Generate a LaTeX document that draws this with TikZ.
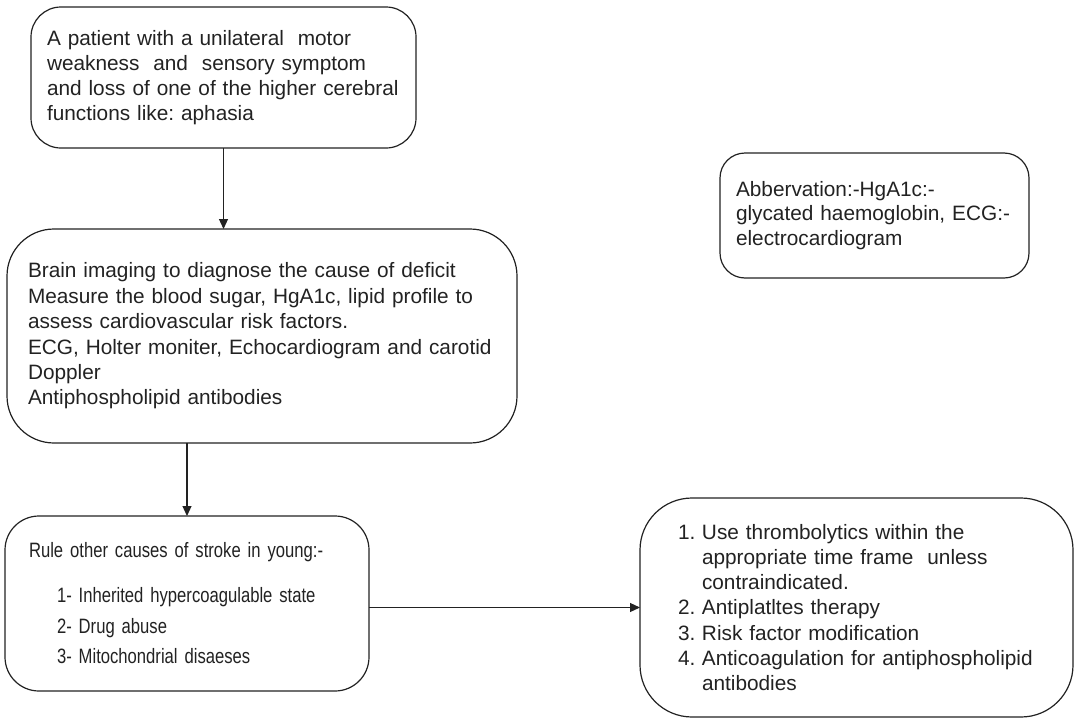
\documentclass[tikz,border=0pt]{standalone}
\usepackage{fontspec}
\setmainfont{Liberation Sans}
\newfontfamily\narrowfont[FakeStretch=0.8]{Liberation Sans}
\usetikzlibrary{arrows.meta}
\definecolor{lc}{HTML}{222222}
\tikzset{
  box/.style={draw=lc, text=lc, line width=1.2pt, align=left, inner ysep=0pt, outer sep=0pt},
  arr/.style={draw=lc, line width=1.2pt, -{Triangle[length=10pt,width=9pt]}}
}
\begin{document}
\hyphenpenalty=10000 \exhyphenpenalty=10000 \frenchspacing
\begin{tikzpicture}[x=1pt,y=-1pt]
\useasboundingbox (0,0) rectangle (1075,720);
\node[box, rounded corners=30pt, minimum width=385pt, minimum height=141pt, text width=353pt, inner xsep=16pt,
  font=\fontsize{20.8}{25.2}\selectfont] (b1) at (223.5,77.5)
  {A patient with a unilateral\ \ motor\\
   weakness\ \ and\ \ sensory symptom\\
   and loss of one of the higher cerebral\\
   functions like: aphasia};
\node[box, rounded corners=47pt, minimum width=510pt, minimum height=214pt, text width=468pt, inner xsep=21pt,
  font=\fontsize{20.8}{25.4}\selectfont] (b2) at (262,336)
  {Brain imaging to diagnose the cause of deficit\\
   Measure the blood sugar, HgA1c, lipid profile to\\
   assess cardiovascular risk factors.\\
   ECG, Holter moniter, Echocardiogram and carotid\\
   Doppler\\
   Antiphospholipid antibodies};
\node[box, rounded corners=34pt, minimum width=364pt, minimum height=175pt, text width=316pt, inner xsep=24pt,
  font=\narrowfont\fontsize{20.8}{30.5}\selectfont] (b3) at (187,603.5)
  {Rule other causes of stroke in young:-\\[14.5pt]
   \hspace*{28pt}1- Inherited hypercoagulable state\\
   \hspace*{28pt}2- Drug abuse\\
   \hspace*{28pt}3- Mitochondrial disaeses};
\node[box, rounded corners=52pt, minimum width=433pt, minimum height=219pt, text width=357pt, inner xsep=38pt,
  font=\fontsize{20.8}{25.3}\selectfont] (b4) at (856.5,607.5)
  {\makebox[24pt][l]{1.}Use thrombolytics within the\\
   \hspace*{24pt}appropriate time frame\ \ unless\\
   \hspace*{24pt}contraindicated.\\
   \makebox[24pt][l]{2.}Antiplatltes therapy\\
   \makebox[24pt][l]{3.}Risk factor modification\\
   \makebox[24pt][l]{4.}Anticoagulation for antiphospholipid\\
   \hspace*{24pt}antibodies};
\node[box, rounded corners=25pt, minimum width=309pt, minimum height=125pt, text width=277pt, inner xsep=16pt,
  font=\fontsize{20.8}{24.5}\selectfont] (b5) at (874.5,215.5)
  {Abbervation:-HgA1c:-\\
   glycated haemoglobin, ECG:-\\
   electrocardiogram\\[6pt]};
\draw[arr] (b1.south) -- (b1.south |- b2.north);
\draw[arr] (b3.north |- b2.south) -- (b3.north);
\draw[arr] (b4.west -| b3.east) -- (b4.west);
\end{tikzpicture}
\end{document}
